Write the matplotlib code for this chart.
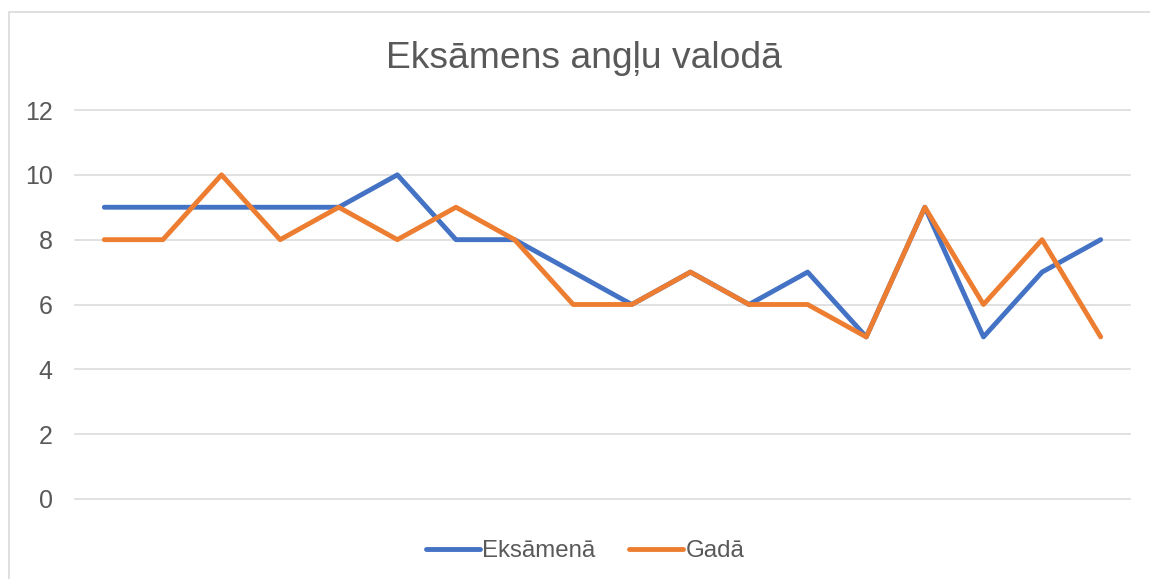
import matplotlib
matplotlib.use("Agg")
import matplotlib.pyplot as plt
from matplotlib.patches import Rectangle

plt.rcParams['font.family'] = ['Liberation Sans', 'DejaVu Sans']

title = "Eksāmens angļu valodā"
series_names = ["Eksāmenā", "Gadā"]
categories = list(range(1, 19))
eksamena = [9, 9, 9, 9, 9, 10, 8, 8, 7, 6, 7, 6, 7, 5, 9, 5, 7, 8]
gada = [8, 8, 10, 8, 9, 8, 9, 8, 6, 6, 7, 6, 6, 5, 9, 6, 8, 5]
yticks = [0, 2, 4, 6, 8, 10, 12]

W, H = 1150, 579
fig = plt.figure(figsize=(W / 100, H / 100), dpi=100)
fig.patch.set_facecolor("white")

# chart border
fig.patches.append(Rectangle((9 / W, -0.1), 1.2, 1 - 12 / H + 0.1, transform=fig.transFigure,
                             fill=False, edgecolor="#d9d9d9", linewidth=1.2))

ax = fig.add_axes([75 / W, 1 - 499 / H, (1130 - 75) / W, (499 - 110) / H])
xs = list(range(len(categories)))
gray = "#595959"
l1, = ax.plot(xs, eksamena, color="#4472C4", linewidth=3.5, solid_capstyle="round",
              solid_joinstyle="round", label=series_names[0], zorder=3)
l2, = ax.plot(xs, gada, color="#ED7D31", linewidth=3.5, solid_capstyle="round",
              solid_joinstyle="round", label=series_names[1], zorder=4)

ax.set_xlim(-0.5, len(categories) - 0.5)
ax.set_ylim(0, 12)
ax.set_yticks(yticks)
ax.set_xticks([])
ax.grid(axis="y", color="#d9d9d9", linewidth=1.1)
for gl in ax.get_ygridlines():
    gl.set_clip_on(False)
ax.set_axisbelow(True)
for s in ax.spines.values():
    s.set_visible(False)
ax.tick_params(axis="y", length=0, pad=16, labelsize=18, labelcolor=gray)

fig.text(584 / W, 1 - 58 / H, title, ha="center", va="center", fontsize=26.8, color=gray)

leg = fig.legend(handles=[l1, l2], loc="center", bbox_to_anchor=(585 / W, 1 - 551 / H), ncol=2,
                 frameon=False, fontsize=17.3, handlelength=2.25, handletextpad=0.1,
                 columnspacing=1.4, labelcolor=gray)

fig.savefig("out.png", dpi=100)
